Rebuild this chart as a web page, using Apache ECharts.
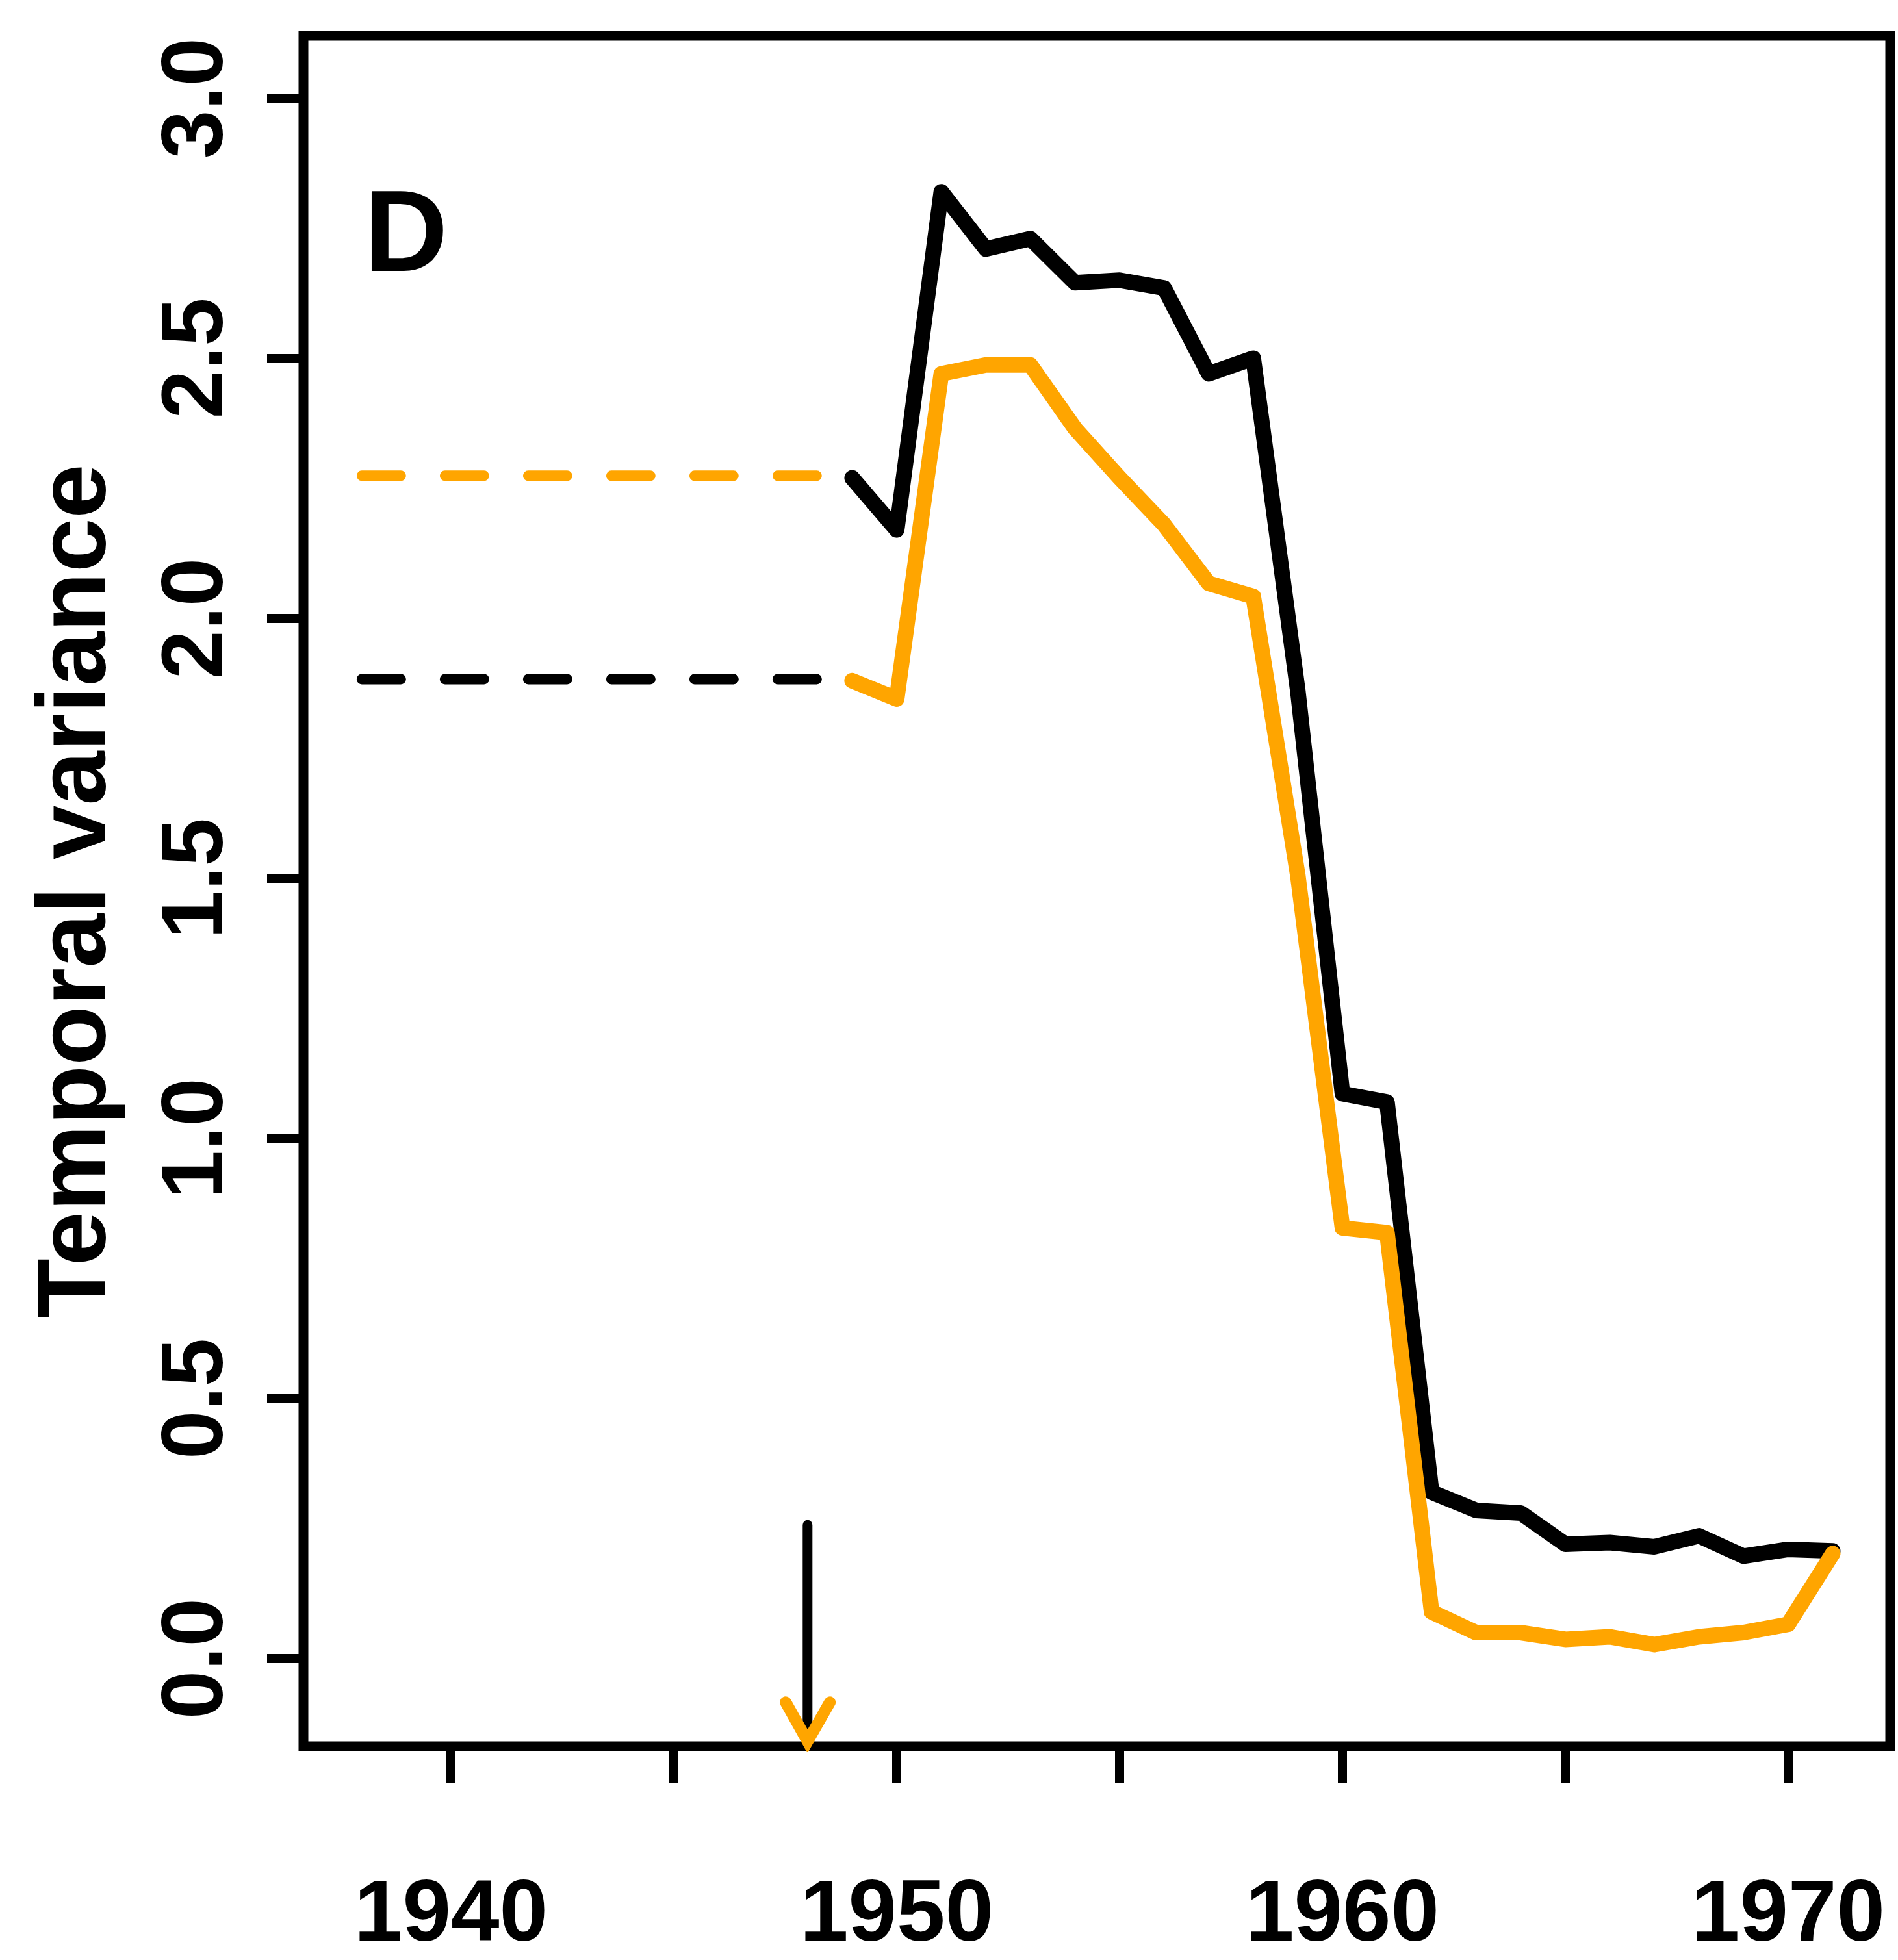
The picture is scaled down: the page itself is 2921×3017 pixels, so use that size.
<!DOCTYPE html>
<html>
<head>
<meta charset="utf-8">
<script src="https://cdn.jsdelivr.net/npm/echarts@6/dist/echarts.min.js"></script>
<style>
  html, body { margin: 0; padding: 0; background: #fff; }
  #chart { width: 2921px; height: 3017px; }
</style>
</head>
<body>
<div id="chart"></div>
<script>
// ---- data ----
const years = [1949,1950,1951,1952,1953,1954,1955,1956,1957,1958,1959,1960,1961,1962,1963,1964,1965,1966,1967,1968,1969,1970,1971];
const blackValues  = [2.27,2.17,2.82,2.71,2.73,2.645,2.65,2.635,2.47,2.50,1.86,1.086,1.07,0.32,0.285,0.28,0.22,0.223,0.215,0.236,0.197,0.21,0.207];
const orangeValues = [1.88,1.845,2.47,2.487,2.487,2.365,2.27,2.18,2.067,2.042,1.505,0.828,0.819,0.09,0.05,0.05,0.037,0.042,0.027,0.042,0.05,0.066,0.202];

const refYears = [1938, 1949];          // extent of the dashed reference levels
const blackRef = 1.883;                 // dashed black level
const orangeRef = 2.274;                // dashed orange level

const arrowYear = 1948;                 // arrow marker
const arrowShaftY = [0.257, -0.155];
const arrowHeadX = [1947.51, 1948, 1948.5];
const arrowHeadY = [-0.084, -0.159, -0.084];

const xTicks = [1940,1945,1950,1955,1960,1965,1970];
const xTickLabels = [1940,1950,1960,1970];
const yTicks = [0,0.5,1.0,1.5,2.0,2.5,3.0];

const panelLabel = 'D';
const yTitle = 'Temporal variance';

// ---- chart ----
const BLACK = '#000000';
const ORANGE = '#FFA500';
const FONT = '"Liberation Sans", Arial, Helvetica, sans-serif';

const chart = echarts.init(document.getElementById('chart'), null, { renderer: 'canvas' });

const zip = (xs, ys) => xs.map((x, i) => [x, ys[i]]);

chart.setOption({
  animation: false,
  backgroundColor: '#ffffff',
  grid: {
    left: 467, right: 12, top: 55, bottom: 329,
    show: true, borderColor: BLACK, borderWidth: 15,
    backgroundColor: 'transparent',
    outerBoundsMode: 'none',
    containLabel: false
  },
  xAxis: {
    type: 'value',
    min: 1936.69, max: 1972.29,
    axisLine: { show: false, onZero: false },
    splitLine: { show: false },
    axisTick: {
      show: true, inside: false, length: 56,
      customValues: xTicks,
      lineStyle: { color: BLACK, width: 14 }
    },
    axisLabel: {
      show: true, customValues: xTickLabels,
      formatter: v => String(v),
      margin: 195,
      color: BLACK, fontSize: 134, fontWeight: 'bold', fontFamily: FONT
    }
  },
  yAxis: {
    type: 'value',
    min: -0.1685, max: 3.12,
    name: yTitle,
    nameLocation: 'middle',
    nameGap: 271,
    nameTextStyle: { color: BLACK, fontSize: 150, fontWeight: 'bold', fontFamily: FONT },
    axisLine: { show: false, onZero: false },
    splitLine: { show: false },
    axisTick: {
      show: true, inside: false, length: 56,
      customValues: yTicks,
      lineStyle: { color: BLACK, width: 14 }
    },
    axisLabel: {
      show: true, customValues: yTicks,
      rotate: 90,
      formatter: v => Number(v).toFixed(1),
      margin: 95,
      color: BLACK, fontSize: 134, fontWeight: 'bold', fontFamily: FONT
    }
  },
  graphic: [{
    type: 'text',
    left: 560, top: 278,
    style: {
      text: panelLabel,
      fill: BLACK,
      font: 'bold 179px ' + FONT
    }
  }],
  series: [
    {
      type: 'line', name: 'orange reference',
      data: zip(refYears, refYears.map(() => orangeRef)),
      showSymbol: false, silent: true,
      lineStyle: { color: ORANGE, width: 16, type: [60, 68], cap: 'round' }
    },
    {
      type: 'line', name: 'black reference',
      data: zip(refYears, refYears.map(() => blackRef)),
      showSymbol: false, silent: true,
      lineStyle: { color: BLACK, width: 16, type: [60, 68], cap: 'round' }
    },
    {
      type: 'line', name: 'black',
      data: zip(years, blackValues),
      showSymbol: false, silent: true,
      lineStyle: { color: BLACK, width: 24, cap: 'round', join: 'round' }
    },
    {
      type: 'line', name: 'orange',
      data: zip(years, orangeValues),
      showSymbol: false, silent: true,
      lineStyle: { color: ORANGE, width: 24, cap: 'round', join: 'round' }
    },
    {
      type: 'line', name: 'arrow shaft',
      data: zip([arrowYear, arrowYear], arrowShaftY),
      showSymbol: false, silent: true,
      lineStyle: { color: BLACK, width: 15, cap: 'round' }
    },
    {
      type: 'line', name: 'arrow head',
      data: zip(arrowHeadX, arrowHeadY),
      showSymbol: false, silent: true,
      lineStyle: { color: ORANGE, width: 18, cap: 'round', join: 'miter' }
    }
  ]
});
</script>
</body>
</html>
